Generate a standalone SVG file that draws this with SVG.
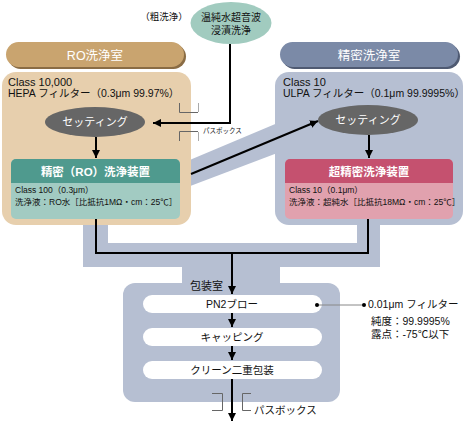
<svg xmlns="http://www.w3.org/2000/svg" width="468" height="423" viewBox="0 0 468 423">
<defs>
<marker id="ah" viewBox="0 0 8 8" refX="8" refY="4" markerWidth="8" markerHeight="8" markerUnits="userSpaceOnUse" orient="auto">
<path d="M0,0 L8,4 L0,8 z" fill="#000"/>
</marker>
<style>
text{font-family:"Liberation Sans","Noto Sans CJK JP",sans-serif;fill:#111}
.w{fill:#fff}
.c{text-anchor:middle}
.ln{stroke:#000;stroke-width:2;fill:none}
.pb{stroke:#666;stroke-width:1;fill:none}
.pbl{stroke:#aaa;stroke-width:1;fill:none}
</style>
</defs>
<rect width="468" height="423" fill="#fff"/>

<g id="corridors" fill="#b6bfd2">
<polygon points="185,162 280,122 280,152 185,188"/>
<path d="M83,220 H108 V243 H357 V220 H380 V267 H280 V285 H182 V267 H83 Z"/>
</g>

<g id="ro-room">
<rect x="8" y="44" width="178" height="25" rx="12.5" fill="#8a6c44"/>
<rect x="6" y="42" width="178" height="25" rx="12.5" fill="#c9a46f"/>
<text x="95" y="60" class="w c" font-size="12.5">RO洗浄室</text>
<rect x="2" y="72" width="189" height="153" rx="14" fill="#e7cfad"/>
<text x="8" y="86" font-size="11">Class 10,000</text>
<text x="8" y="97" font-size="10.5">HEPA フィルター（0.3μm 99.97%）</text>
</g>

<g id="precision-room">
<rect x="282" y="44" width="178" height="25" rx="12.5" fill="#4f5a72"/>
<rect x="280" y="42" width="178" height="25" rx="12.5" fill="#7b8aa7"/>
<text x="369" y="60" class="w c" font-size="12.5">精密洗浄室</text>
<rect x="275" y="72" width="188" height="153" rx="14" fill="#b6bfd2"/>
<text x="283" y="86" font-size="11">Class 10</text>
<text x="283" y="97" font-size="10.5">ULPA フィルター（0.1μm 99.9995%）</text>
</g>

<g id="pre-wash">
<ellipse cx="231" cy="23" rx="40.5" ry="21" fill="#a1cbbf"/>
<text x="231" y="21" class="c" font-size="10">温純水超音波</text>
<text x="231" y="34" class="c" font-size="10">浸漬洗浄</text>
<text x="164" y="20" class="c" font-size="9.5">（粗洗浄）</text>
</g>

<g id="setting-ro">
<ellipse cx="95" cy="122" rx="50" ry="15" fill="#666"/>
<text x="95" y="126" class="w c" font-size="11">セッティング</text>
</g>

<g id="setting-precision">
<ellipse cx="368" cy="120" rx="50" ry="15" fill="#666"/>
<text x="368" y="124" class="w c" font-size="11">セッティング</text>
</g>

<g id="ro-cleaner">
<rect x="11" y="159" width="169" height="60" rx="5" fill="#a2cbc2"/>
<path d="M11,183 V164 a5,5 0 0 1 5,-5 H175 a5,5 0 0 1 5,5 V183 Z" fill="#4f9a8e"/>
<text x="95.5" y="176" class="w c" font-size="11.5" font-weight="bold">精密（RO）洗浄装置</text>
<text x="15" y="193" font-size="8.5">Class 100（0.3μm）</text>
<text x="15" y="205" font-size="8.5">洗浄液：RO水［比抵抗1MΩ・cm：25℃］</text>
</g>

<g id="ultra-cleaner">
<rect x="285" y="159" width="168" height="60" rx="5" fill="#e1a1ae"/>
<path d="M285,183 V164 a5,5 0 0 1 5,-5 H448 a5,5 0 0 1 5,5 V183 Z" fill="#c5516f"/>
<text x="369" y="176" class="w c" font-size="11.5" font-weight="bold">超精密洗浄装置</text>
<text x="289" y="193" font-size="8.5">Class 10（0.1μm）</text>
<text x="289" y="205" font-size="8.5">洗浄液：超純水［比抵抗18MΩ・cm：25℃］</text>
</g>

<g id="packaging-room">
<rect x="123" y="283" width="217" height="119" rx="12" fill="#b6bfd2"/>
<text x="190" y="290" font-size="11">包装室</text>
</g>

<g id="pn2">
<rect x="143" y="295" width="179" height="18" rx="9" fill="#fff"/>
<text x="232" y="308" class="c" font-size="10.5">PN2ブロー</text>
</g>
<g id="capping">
<rect x="143" y="328" width="179" height="18" rx="9" fill="#fff"/>
<text x="232" y="341" class="c" font-size="10.5">キャッピング</text>
</g>
<g id="double-pack">
<rect x="143" y="361" width="179" height="18" rx="9" fill="#fff"/>
<text x="232" y="374" class="c" font-size="10.5">クリーン二重包装</text>
</g>

<g id="filter-note">
<line x1="317" y1="305" x2="364" y2="305" stroke="#888" stroke-width="1"/>
<circle cx="317" cy="305" r="2" fill="#000"/>
<circle cx="364" cy="305" r="2" fill="#000"/>
<text x="368" y="308" font-size="10.5">0.01μm フィルター</text>
<text x="371" y="325" font-size="10.5">純度：99.9995%</text>
<text x="371" y="338" font-size="10.5">露点：-75℃以下</text>
</g>

<g id="passboxes">
<path class="pb" d="M179.5,103 V112.5 H198"/>
<path class="pbl" d="M198.5,103 V112"/>
<path class="pb" d="M198,131.5 H179.5 V141"/>
<path class="pbl" d="M198.5,132 V141"/>
<text x="203" y="133" font-size="6.5">パスボックス</text>
<path class="pb" d="M212,393.5 H222.5 V410.5 H212"/>
<path class="pb" d="M251,393.5 H242.5 V410.5 H251"/>
<text x="254" y="414" font-size="10.5">パスボックス</text>
</g>

<g id="connectors">
<polyline class="ln" points="230,44 230,123 153,123" marker-end="url(#ah)"/>
<line class="ln" x1="96" y1="137" x2="96" y2="158" marker-end="url(#ah)"/>
<line class="ln" x1="369" y1="135" x2="369" y2="158" marker-end="url(#ah)"/>
<line class="ln" x1="191" y1="174" x2="318" y2="121" marker-end="url(#ah)"/>
<polyline class="ln" points="96,219 96,253 368,253 368,219"/>
<line class="ln" x1="232" y1="253" x2="232" y2="294" marker-end="url(#ah)"/>
<line class="ln" x1="232" y1="313" x2="232" y2="327" marker-end="url(#ah)"/>
<line class="ln" x1="232" y1="346" x2="232" y2="360" marker-end="url(#ah)"/>
<line class="ln" x1="232" y1="379" x2="232" y2="421" marker-end="url(#ah)"/>
</g>
</svg>
